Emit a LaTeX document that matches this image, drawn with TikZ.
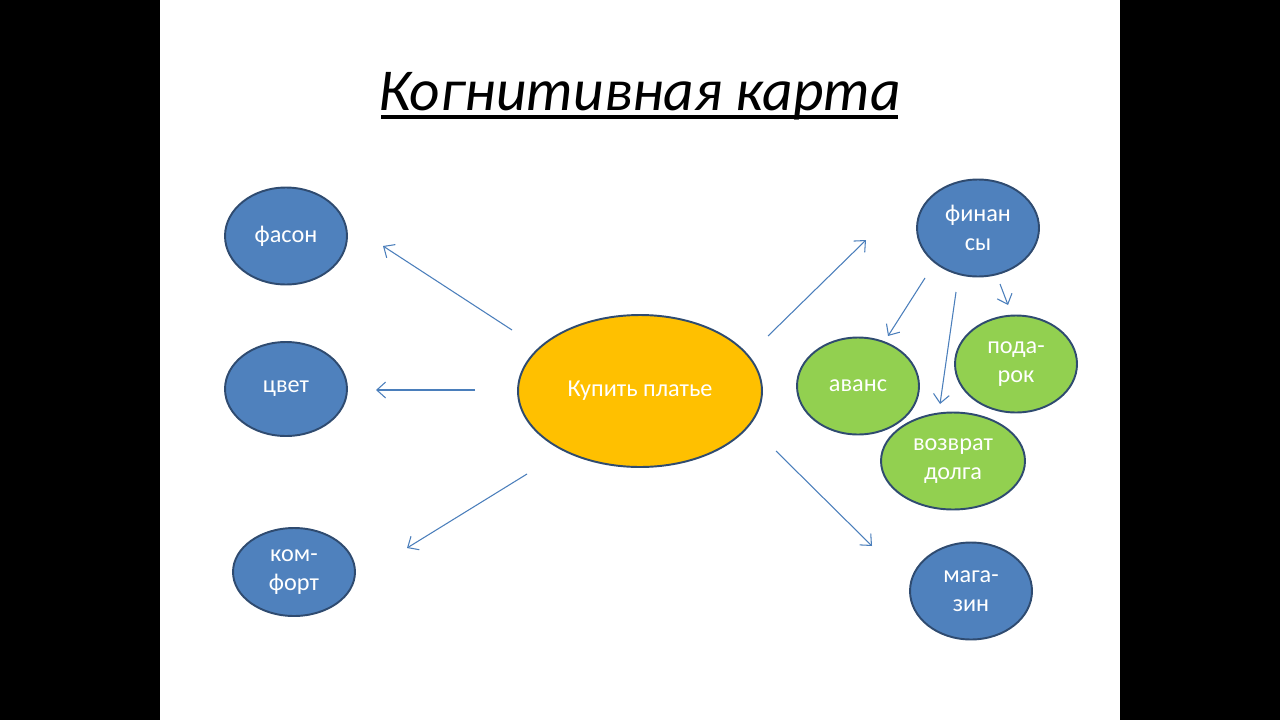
\documentclass[tikz,border=0pt]{standalone}
\usepackage{fontspec}
\setmainfont{Carlito}
\usepackage{xcolor}
\usetikzlibrary{shapes.geometric,arrows.meta}
\definecolor{nodeblue}{HTML}{4F81BD}
\definecolor{nodegreen}{HTML}{92D050}
\definecolor{nodeorange}{HTML}{FFC000}
\definecolor{rimblue}{HTML}{2F4B70}
\definecolor{arrowblue}{HTML}{4A7EBB}

\begin{document}
\begin{tikzpicture}[x=0.02cm,y=-0.02cm,
    bubble/.style={ellipse,draw=rimblue,line width=1.1pt,text=white,align=center,
        font=\fontsize{13.8}{16.2}\selectfont,minimum width=2.44cm,minimum height=1.94cm,inner sep=0pt},
    bluebubble/.style={bubble,fill=nodeblue},
    greenbubble/.style={bubble,fill=nodegreen},
    link/.style={draw=arrowblue,line width=0.6pt,-{Straight Barb[length=5pt,width=9pt]}}]
    \fill[black] (0,0) rectangle (1280,720);
    \fill[white] (160,0) rectangle (1120,720);

    \node[font=\itshape\fontsize{33.8}{40}\selectfont,anchor=base] (title) at (640,110) {Когнитивная карта};
    \draw[line width=1.8pt] (381,117) -- (898,117);

    \node[bubble,fill=nodeorange,minimum width=4.88cm,minimum height=3.04cm] (goal) at (640,391) {Купить платье};

    \node[bluebubble] (style) at (286,236) {фасон};
    \node[bluebubble,minimum height=1.88cm] (colour) at (286,389) {цвет};
    \node[bluebubble,minimum height=1.76cm] (comfort) at (294,572) {ком-\\форт};
    \node[bluebubble] (money) at (978,228) {финан\\сы};
    \node[bluebubble] (shop) at (971,591) {мага-\\зин};

    \node[greenbubble] (advance) at (858,386) {аванс};
    \node[greenbubble] (gift) at (1016,364) {пода-\\рок};
    \node[greenbubble,minimum width=2.88cm] (debt) at (953,461) {возврат\\долга};

    \coordinate (s1) at (512,330); \coordinate (e1) at (383,246);
    \coordinate (s2) at (475,390); \coordinate (e2) at (376,390);
    \coordinate (s3) at (527,474); \coordinate (e3) at (407,548);
    \coordinate (s4) at (768,336); \coordinate (e4) at (866,240);
    \coordinate (s5) at (776,451); \coordinate (e5) at (872,546);
    \coordinate (s6) at (925,278); \coordinate (e6) at (888,336);
    \coordinate (s7) at (956,292); \coordinate (e7) at (940,404);
    \coordinate (s8) at (1000,284); \coordinate (e8) at (1008,305);

    \draw[link] (s1) -- (e1);
    \draw[link] (s2) -- (e2);
    \draw[link] (s3) -- (e3);
    \draw[link] (s4) -- (e4);
    \draw[link] (s5) -- (e5);
    \draw[link] (s6) -- (e6);
    \draw[link] (s7) -- (e7);
    \draw[link] (s8) -- (e8);
\end{tikzpicture}
\end{document}
